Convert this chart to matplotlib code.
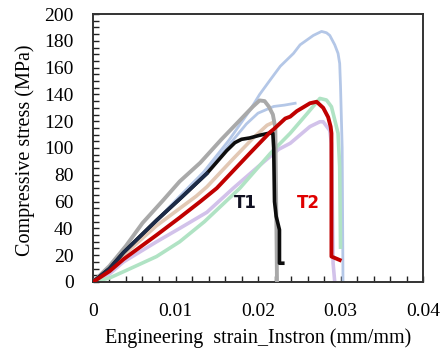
import matplotlib
matplotlib.use("Agg")
import matplotlib.pyplot as plt
from matplotlib.ticker import MultipleLocator

# ---- data (strain mm/mm, stress MPa) ----
gray_x = [0, 0.002, 0.004, 0.006, 0.0085, 0.0105, 0.013, 0.0155, 0.018, 0.0194, 0.0202, 0.0208, 0.0213, 0.0218, 0.0221, 0.0222, 0.0223]
gray_y = [0, 12, 27, 44, 61, 75, 89, 106, 122, 131, 135.5, 135, 131, 125, 115, 60, 0]

blueA_x = [0, 0.002, 0.004, 0.008, 0.0105, 0.0134, 0.0165, 0.019, 0.0202, 0.0215, 0.0227, 0.0243, 0.0251, 0.0267, 0.0277, 0.0283, 0.0287, 0.0293, 0.0297, 0.0299, 0.0300, 0.0302, 0.0303]
blueA_y = [0, 10, 23, 48, 64, 82, 106, 128, 140, 151, 161, 170.6, 177, 184, 187, 186, 184, 177, 170.6, 163, 146, 100, 0]

blueB_x = [0, 0.004, 0.008, 0.012, 0.0155, 0.0186, 0.0200, 0.0219, 0.0232, 0.0245]
blueB_y = [0, 22, 47, 72, 95, 118, 126, 131, 132, 133.4]

tan_x = [0, 0.0037, 0.0077, 0.0125, 0.0138, 0.017, 0.0195, 0.0211, 0.0218]
tan_y = [0, 20, 42, 64, 71, 92, 108, 117, 119]

green_x = [0, 0.002, 0.0037, 0.0077, 0.0105, 0.0135, 0.0178, 0.0215, 0.0239, 0.0260, 0.0275, 0.0283, 0.0289, 0.0293, 0.0297, 0.0299, 0.0300]
green_y = [0, 3, 7.7, 19, 30, 45, 70, 96, 111, 126, 137, 135.8, 130.8, 121, 111, 86, 26]

purple_x = [0, 0.002, 0.0037, 0.0077, 0.0105, 0.0138, 0.017, 0.020, 0.0225, 0.0239, 0.0263, 0.0275, 0.0279, 0.0287, 0.0289, 0.0291, 0.0293]
purple_y = [0, 6, 15, 30, 40, 52, 70, 86, 99, 103.5, 116, 119.6, 119.6, 113, 103.5, 14, 0]

t1_x = [0, 0.002, 0.0037, 0.0077, 0.0107, 0.0138, 0.0162, 0.0172, 0.0180, 0.019, 0.0202, 0.0213, 0.0218, 0.0219, 0.0220, 0.0222, 0.0226, 0.0226, 0.0230]
t1_y = [0, 10, 22, 46, 63, 81, 98, 104, 106.5, 107.5, 109.5, 111, 111, 100, 60, 49, 39, 14, 14]

t2_x = [0, 0.002, 0.0037, 0.0077, 0.0105, 0.013, 0.015, 0.019, 0.0215, 0.0219, 0.0233, 0.0239, 0.0247, 0.0263, 0.0271, 0.0279, 0.0285, 0.0288, 0.0289, 0.0289, 0.0289, 0.0299]
t2_y = [0, 8, 17, 35, 48, 60, 70, 96, 112, 114, 122, 123.4, 127.5, 133.4, 134.5, 130, 123, 116, 111, 93, 19, 16.4]

x_ticks = [0, 0.01, 0.02, 0.03, 0.04]
x_tick_labels = ["0", "0.01", "0.02", "0.03", "0.04"]
y_ticks = [0, 20, 40, 60, 80, 100, 120, 140, 160, 180, 200]

fig = plt.figure(figsize=(4.46, 3.52), dpi=100)
ax = fig.add_axes([0.2085, 0.1989, 0.74, 0.7613])

ax.plot(blueA_x, blueA_y, color="#b4c7e7", lw=2.0, zorder=2)
ax.plot(blueB_x, blueB_y, color="#b4c7e7", lw=2.0, zorder=2)
ax.plot(purple_x, purple_y, color="#d2c2ea", lw=2.6, zorder=2)
ax.plot(green_x, green_y, color="#b0e3c4", lw=2.6, zorder=2)
ax.plot(tan_x, tan_y, color="#e2c8b4", lw=2.6, zorder=2)
ax.plot(gray_x, gray_y, color="#a9a9a9", lw=2.8, zorder=3)
ax.plot(t1_x, t1_y, color="#0d0d0d", lw=2.6, zorder=4)
ax.plot(t1_x[:6], t1_y[:6], color="#1c2b48", lw=2.6, zorder=4)
ax.plot(t2_x, t2_y, color="#c00000", lw=2.8, zorder=5)

serif = "Liberation Serif"
ax.text(0.01842, 59, "T1", color="#111122", fontsize=12, fontweight="bold",
        family="DejaVu Sans", ha="center", va="center")
ax.text(0.0261, 59, "T2", color="#e00000", fontsize=12, fontweight="bold",
        family="DejaVu Sans", ha="center", va="center")

ax.set_xlim(0, 0.04)
ax.set_ylim(0, 200)
ax.set_xticks(x_ticks)
ax.set_xticklabels(x_tick_labels)
ax.set_yticks(y_ticks)
ax.xaxis.set_minor_locator(MultipleLocator(0.002))
ax.yaxis.set_minor_locator(MultipleLocator(5))
ax.tick_params(axis="both", which="both", direction="in", length=4, width=1, color="#222222")
ax.tick_params(axis="x", which="major", pad=15)
ax.tick_params(axis="y", which="major", pad=14)
for lab in ax.get_xticklabels() + ax.get_yticklabels():
    lab.set_fontfamily(serif)
    lab.set_fontsize(14)
for s in ax.spines.values():
    s.set_linewidth(1.4)
    s.set_color("#333333")

ax.set_xlabel("Engineering  strain_Instron (mm/mm)", fontfamily=serif, fontsize=14.5, va="center")
ax.set_ylabel("Compressive stress (MPa)", fontfamily=serif, fontsize=14.5, va="center")
ax.xaxis.set_label_coords(0.5, -0.209)
ax.yaxis.set_label_coords(-0.206, 0.49)

fig.savefig("out.png", dpi=100)
